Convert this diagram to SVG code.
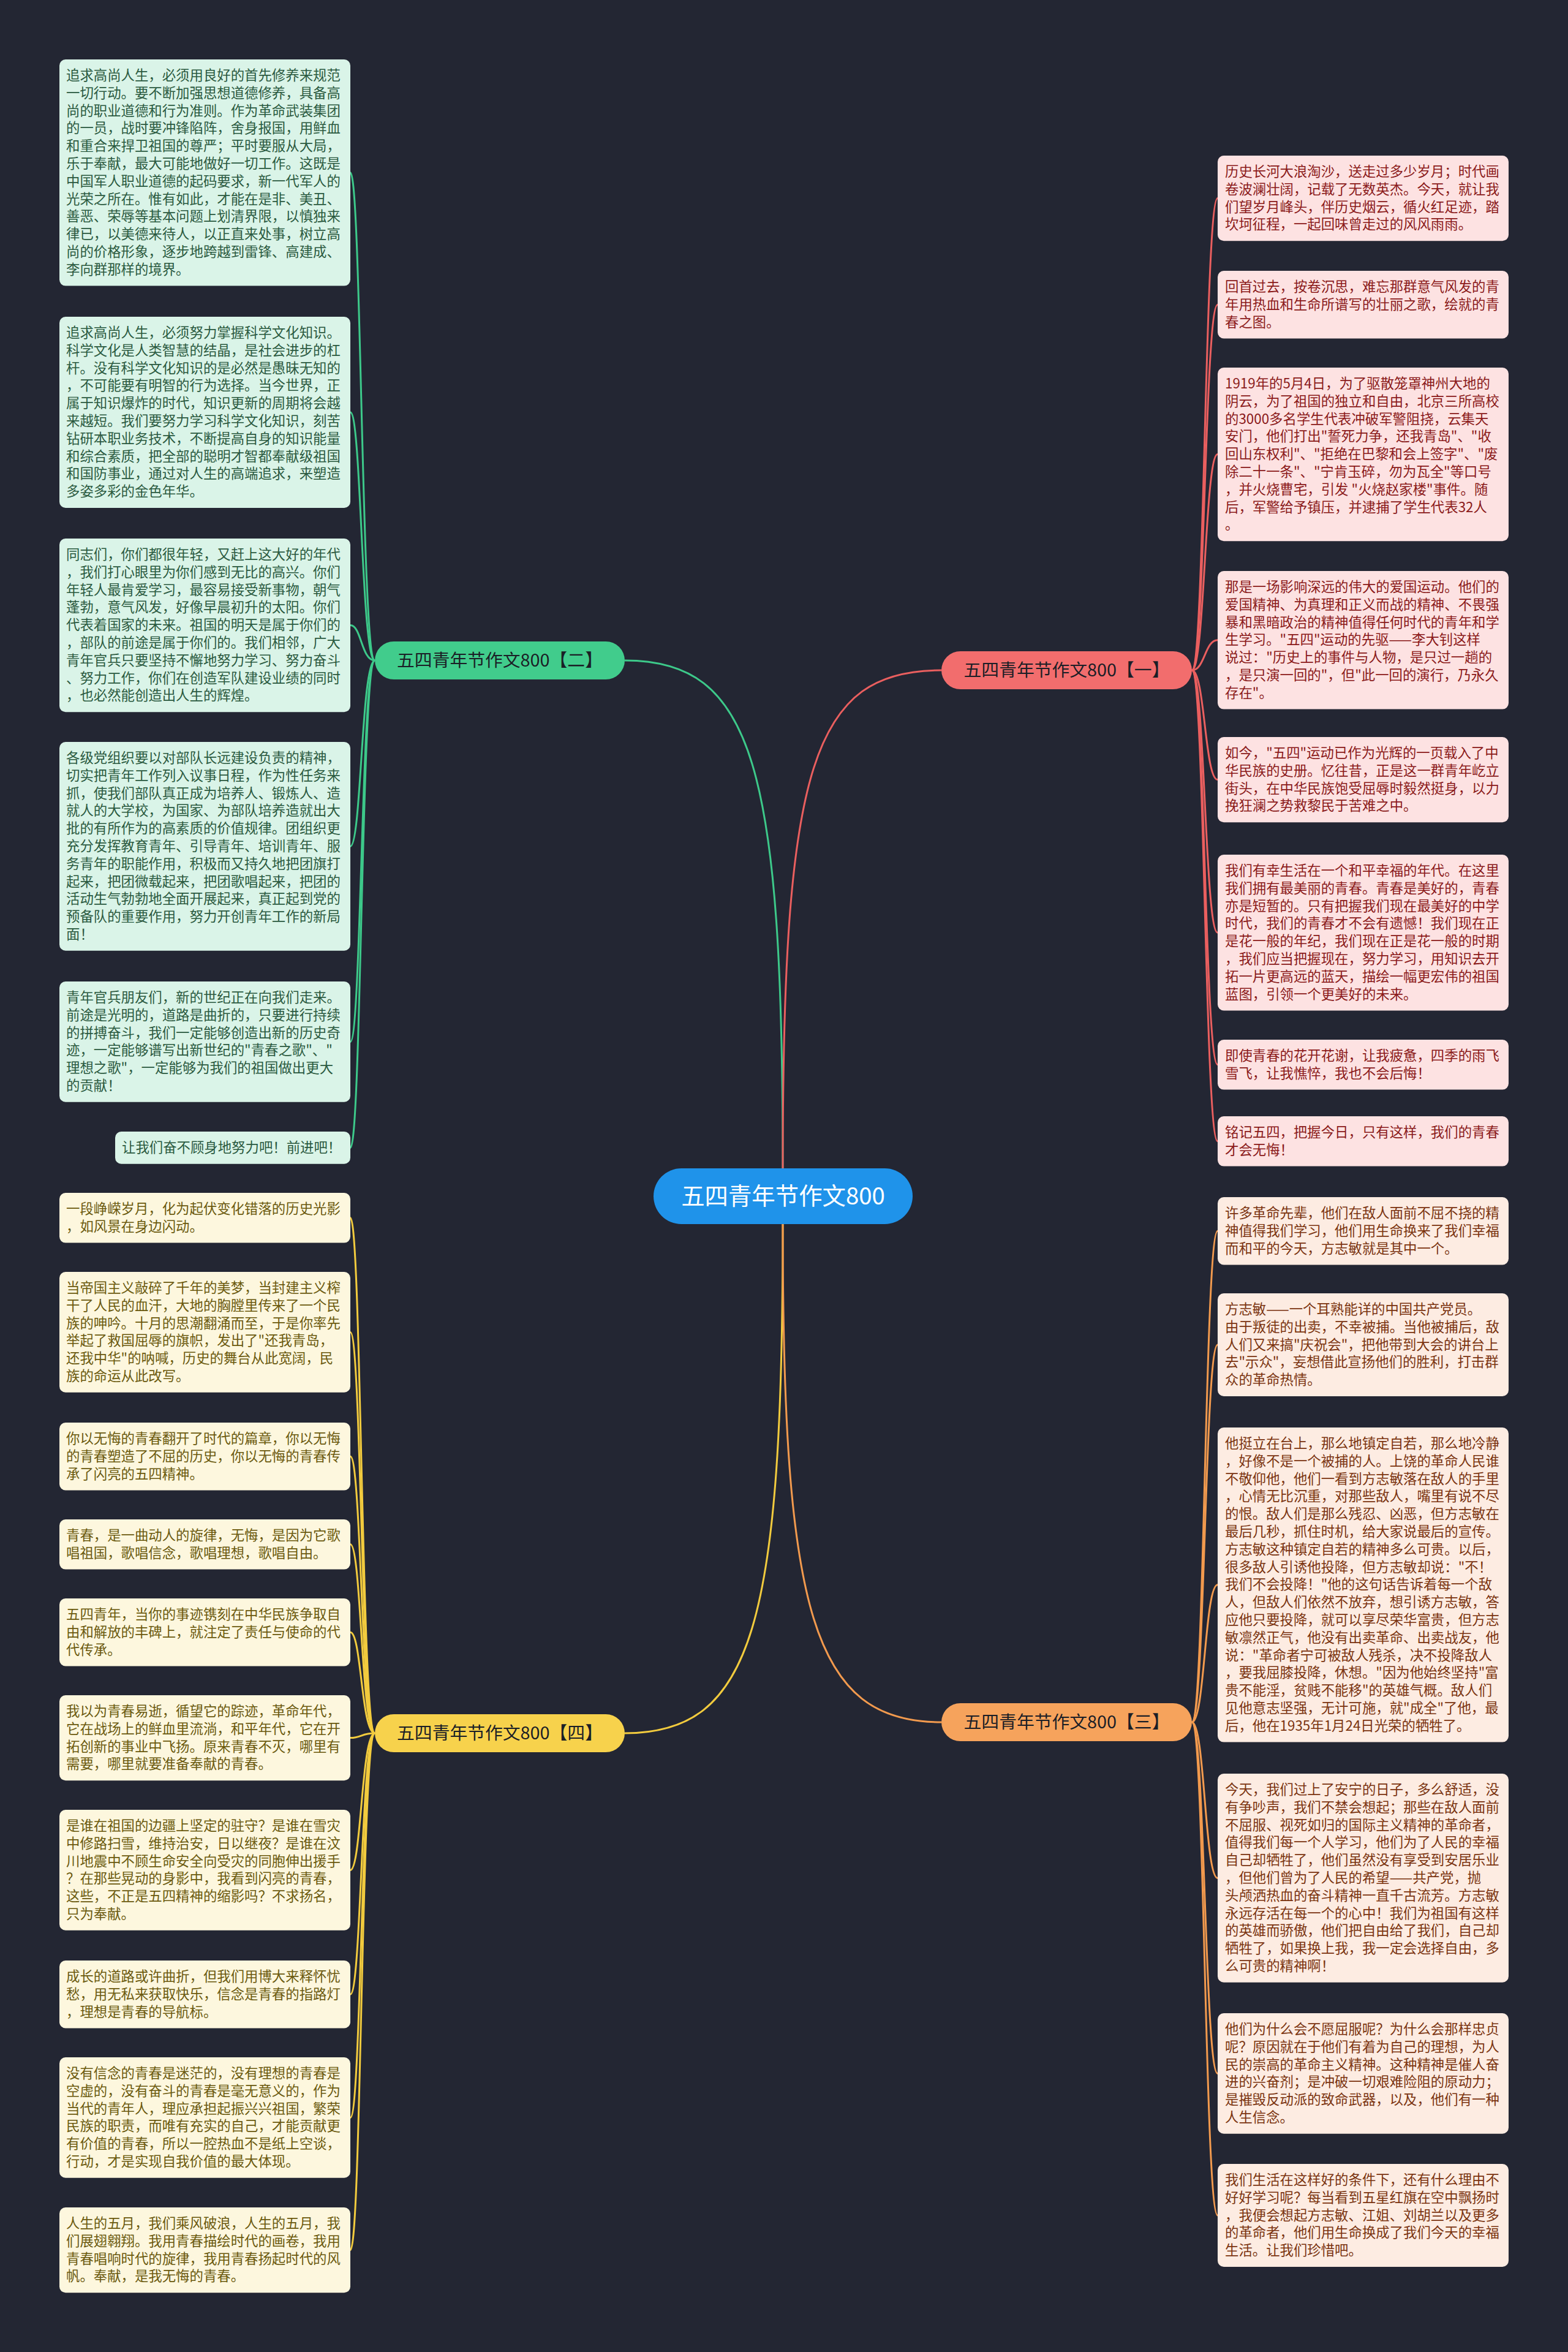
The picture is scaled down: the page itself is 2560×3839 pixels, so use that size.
<svg xmlns="http://www.w3.org/2000/svg" width="2560" height="3839" viewBox="0 0 2560 3839">
<style>
text{font-family:"Noto Sans CJK SC","Noto Sans",sans-serif;}
.t{font-size:22.4px;}
.g rect{fill:#daf4e8;} .g text{fill:#2b5a40;}
.y rect{fill:#fdf7de;} .y text{fill:#6b5a0e;}
.r rect{fill:#fde2e2;} .r text{fill:#8b1a1a;}
.o rect{fill:#fdece2;} .o text{fill:#7b3410;}
.lg{fill:none;stroke:#3dc98a;stroke-width:3;}
.ly{fill:none;stroke:#f2cb3e;stroke-width:3;}
.lr{fill:none;stroke:#ea5f5f;stroke-width:3;}
.lo{fill:none;stroke:#f29a4e;stroke-width:3;}
.bn{font-size:28.8px;fill:#1b1e26;text-anchor:middle;}
</style>
<rect width="2560" height="3839" fill="#232633"/>

<g id="connectors">
<path class="lg" d="M1278,1907 C1278,1250 1230,1078 1020,1078"/>
<path class="lr" d="M1278,1907 C1278,1250 1326,1094 1537,1094"/>
<path class="ly" d="M1278,1998 C1278,2650 1230,2829 1020,2829"/>
<path class="lo" d="M1278,1998 C1278,2630 1326,2811 1537,2811"/>

<path class="lg" d="M612,1078 C590,1078 590,281.8 572,281.8"/>
<path class="lg" d="M612,1078 C590,1078 590,673 572,673"/>
<path class="lg" d="M612,1078 C590,1078 590,1020.6 572,1020.6"/>
<path class="lg" d="M612,1078 C590,1078 590,1381.4 572,1381.4"/>
<path class="lg" d="M612,1078 C590,1078 590,1700.4 572,1700.4"/>
<path class="lg" d="M612,1078 C590,1078 590,1873.4 572,1873.4"/>

<path class="ly" d="M612,2829 C590,2829 590,1987.8 572,1987.8"/>
<path class="ly" d="M612,2829 C590,2829 590,2174.4 572,2174.4"/>
<path class="ly" d="M612,2829 C590,2829 590,2377.2 572,2377.2"/>
<path class="ly" d="M612,2829 C590,2829 590,2520.8 572,2520.8"/>
<path class="ly" d="M612,2829 C590,2829 590,2664.2 572,2664.2"/>
<path class="ly" d="M612,2829 C590,2829 590,2836.6 572,2836.6"/>
<path class="ly" d="M612,2829 C590,2829 590,3052.4 572,3052.4"/>
<path class="ly" d="M612,2829 C590,2829 590,3255.2 572,3255.2"/>
<path class="ly" d="M612,2829 C590,2829 590,3456.4 572,3456.4"/>
<path class="ly" d="M612,2829 C590,2829 590,3672.6 572,3672.6"/>

<path class="lr" d="M1946,1094 C1967,1094 1967,323.6 1988,323.6"/>
<path class="lr" d="M1946,1094 C1967,1094 1967,497.2 1988,497.2"/>
<path class="lr" d="M1946,1094 C1967,1094 1967,741.6 1988,741.6"/>
<path class="lr" d="M1946,1094 C1967,1094 1967,1044.8 1988,1044.8"/>
<path class="lr" d="M1946,1094 C1967,1094 1967,1272.6 1988,1272.6"/>
<path class="lr" d="M1946,1094 C1967,1094 1967,1522.2 1988,1522.2"/>
<path class="lr" d="M1946,1094 C1967,1094 1967,1737.8 1988,1737.8"/>
<path class="lr" d="M1946,1094 C1967,1094 1967,1862.8 1988,1862.8"/>

<path class="lo" d="M1946,2811 C1967,2811 1967,2009.2 1988,2009.2"/>
<path class="lo" d="M1946,2811 C1967,2811 1967,2195 1988,2195"/>
<path class="lo" d="M1946,2811 C1967,2811 1967,2586.8 1988,2586.8"/>
<path class="lo" d="M1946,2811 C1967,2811 1967,3065.4 1988,3065.4"/>
<path class="lo" d="M1946,2811 C1967,2811 1967,3384.4 1988,3384.4"/>
<path class="lo" d="M1946,2811 C1967,2811 1967,3616 1988,3616"/>
</g>

<g id="center">
<rect x="1067" y="1907" width="423" height="91" rx="45.5" fill="#1f93ea"/>
<text x="1278.5" y="1966" font-size="38.4" fill="#ffffff" text-anchor="middle">五四青年节作文800</text>
</g>

<g id="branch-2">
<rect x="612" y="1047" width="408" height="62" rx="31" fill="#41cc8c"/>
<text class="bn" x="816" y="1088">五四青年节作文800【二】</text>
</g>
<g id="branch-1">
<rect x="1537" y="1063" width="409" height="62" rx="31" fill="#f26d6d"/>
<text class="bn" x="1741.5" y="1104">五四青年节作文800【一】</text>
</g>
<g id="branch-4">
<rect x="612" y="2798" width="408" height="62" rx="31" fill="#f7d24c"/>
<text class="bn" x="816" y="2839">五四青年节作文800【四】</text>
</g>
<g id="branch-3">
<rect x="1537" y="2780" width="409" height="62" rx="31" fill="#f6a35c"/>
<text class="bn" x="1741.5" y="2821">五四青年节作文800【三】</text>
</g>

<g id="g1" class="g"><rect x="97" y="97" width="475" height="369.6" rx="10"/>
<text class="t" x="108" y="131"><tspan x="108" dy="0">追求高尚人生，必须用良好的首先修养来规范</tspan><tspan x="108" dy="28.8">一切行动。要不断加强思想道德修养，具备高</tspan><tspan x="108" dy="28.8">尚的职业道德和行为准则。作为革命武装集团</tspan><tspan x="108" dy="28.8">的一员，战时要冲锋陷阵，舍身报国，用鲜血</tspan><tspan x="108" dy="28.8">和重合来捍卫祖国的尊严；平时要服从大局，</tspan><tspan x="108" dy="28.8">乐于奉献，最大可能地做好一切工作。这既是</tspan><tspan x="108" dy="28.8">中国军人职业道德的起码要求，新一代军人的</tspan><tspan x="108" dy="28.8">光荣之所在。惟有如此，才能在是非、美丑、</tspan><tspan x="108" dy="28.8">善恶、荣辱等基本问题上划清界限，以慎独来</tspan><tspan x="108" dy="28.8">律已，以美德来待人，以正直来处事，树立高</tspan><tspan x="108" dy="28.8">尚的价格形象，逐步地跨越到雷锋、高建成、</tspan><tspan x="108" dy="28.8">李向群那样的境界。</tspan></text></g>

<g id="g2" class="g"><rect x="97" y="517" width="475" height="312" rx="10"/>
<text class="t" x="108" y="551"><tspan x="108" dy="0">追求高尚人生，必须努力掌握科学文化知识。</tspan><tspan x="108" dy="28.8">科学文化是人类智慧的结晶，是社会进步的杠</tspan><tspan x="108" dy="28.8">杆。没有科学文化知识的是必然是愚昧无知的</tspan><tspan x="108" dy="28.8">，不可能要有明智的行为选择。当今世界，正</tspan><tspan x="108" dy="28.8">属于知识爆炸的时代，知识更新的周期将会越</tspan><tspan x="108" dy="28.8">来越短。我们要努力学习科学文化知识，刻苦</tspan><tspan x="108" dy="28.8">钻研本职业务技术，不断提高自身的知识能量</tspan><tspan x="108" dy="28.8">和综合素质，把全部的聪明才智都奉献级祖国</tspan><tspan x="108" dy="28.8">和国防事业，通过对人生的高端追求，来塑造</tspan><tspan x="108" dy="28.8">多姿多彩的金色年华。</tspan></text></g>

<g id="g3" class="g"><rect x="97" y="879" width="475" height="283.2" rx="10"/>
<text class="t" x="108" y="913"><tspan x="108" dy="0">同志们，你们都很年轻，又赶上这大好的年代</tspan><tspan x="108" dy="28.8">，我们打心眼里为你们感到无比的高兴。你们</tspan><tspan x="108" dy="28.8">年轻人最肯爱学习，最容易接受新事物，朝气</tspan><tspan x="108" dy="28.8">蓬勃，意气风发，好像早晨初升的太阳。你们</tspan><tspan x="108" dy="28.8">代表着国家的未来。祖国的明天是属于你们的</tspan><tspan x="108" dy="28.8">，部队的前途是属于你们的。我们相邻，广大</tspan><tspan x="108" dy="28.8">青年官兵只要坚持不懈地努力学习、努力奋斗</tspan><tspan x="108" dy="28.8">、努力工作，你们在创造军队建设业绩的同时</tspan><tspan x="108" dy="28.8">，也必然能创造出人生的辉煌。</tspan></text></g>

<g id="g4" class="g"><rect x="97" y="1211" width="475" height="340.8" rx="10"/>
<text class="t" x="108" y="1245"><tspan x="108" dy="0">各级党组织要以对部队长远建设负责的精神，</tspan><tspan x="108" dy="28.8">切实把青年工作列入议事日程，作为性任务来</tspan><tspan x="108" dy="28.8">抓，使我们部队真正成为培养人、锻炼人、造</tspan><tspan x="108" dy="28.8">就人的大学校，为国家、为部队培养造就出大</tspan><tspan x="108" dy="28.8">批的有所作为的高素质的价值规律。团组织更</tspan><tspan x="108" dy="28.8">充分发挥教育青年、引导青年、培训青年、服</tspan><tspan x="108" dy="28.8">务青年的职能作用，积极而又持久地把团旗打</tspan><tspan x="108" dy="28.8">起来，把团微载起来，把团歌唱起来，把团的</tspan><tspan x="108" dy="28.8">活动生气勃勃地全面开展起来，真正起到党的</tspan><tspan x="108" dy="28.8">预备队的重要作用，努力开创青年工作的新局</tspan><tspan x="108" dy="28.8">面！</tspan></text></g>

<g id="g5" class="g"><rect x="97" y="1602" width="475" height="196.8" rx="10"/>
<text class="t" x="108" y="1636"><tspan x="108" dy="0">青年官兵朋友们，新的世纪正在向我们走来。</tspan><tspan x="108" dy="28.8">前途是光明的，道路是曲折的，只要进行持续</tspan><tspan x="108" dy="28.8">的拼搏奋斗，我们一定能够创造出新的历史奇</tspan><tspan x="108" dy="28.8">迹，一定能够谱写出新世纪的"青春之歌"、"</tspan><tspan x="108" dy="28.8">理想之歌"，一定能够为我们的祖国做出更大</tspan><tspan x="108" dy="28.8">的贡献！</tspan></text></g>

<g id="g6" class="g"><rect x="188" y="1847" width="384" height="52.8" rx="10"/>
<text class="t" x="199" y="1881">让我们奋不顾身地努力吧！前进吧！</text></g>

<g id="y1" class="y"><rect x="97" y="1947" width="475" height="81.6" rx="10"/>
<text class="t" x="108" y="1981"><tspan x="108" dy="0">一段峥嵘岁月，化为起伏变化错落的历史光影</tspan><tspan x="108" dy="28.8">，如风景在身边闪动。</tspan></text></g>

<g id="y2" class="y"><rect x="97" y="2076" width="475" height="196.8" rx="10"/>
<text class="t" x="108" y="2110"><tspan x="108" dy="0">当帝国主义敲碎了千年的美梦，当封建主义榨</tspan><tspan x="108" dy="28.8">干了人民的血汗，大地的胸膛里传来了一个民</tspan><tspan x="108" dy="28.8">族的呻吟。十月的思潮翻涌而至，于是你率先</tspan><tspan x="108" dy="28.8">举起了救国屈辱的旗帜，发出了"还我青岛，</tspan><tspan x="108" dy="28.8">还我中华"的呐喊，历史的舞台从此宽阔，民</tspan><tspan x="108" dy="28.8">族的命运从此改写。</tspan></text></g>

<g id="y3" class="y"><rect x="97" y="2322" width="475" height="110.4" rx="10"/>
<text class="t" x="108" y="2356"><tspan x="108" dy="0">你以无悔的青春翻开了时代的篇章，你以无悔</tspan><tspan x="108" dy="28.8">的青春塑造了不屈的历史，你以无悔的青春传</tspan><tspan x="108" dy="28.8">承了闪亮的五四精神。</tspan></text></g>

<g id="y4" class="y"><rect x="97" y="2480" width="475" height="81.6" rx="10"/>
<text class="t" x="108" y="2514"><tspan x="108" dy="0">青春，是一曲动人的旋律，无悔，是因为它歌</tspan><tspan x="108" dy="28.8">唱祖国，歌唱信念，歌唱理想，歌唱自由。</tspan></text></g>

<g id="y5" class="y"><rect x="97" y="2609" width="475" height="110.4" rx="10"/>
<text class="t" x="108" y="2643"><tspan x="108" dy="0">五四青年，当你的事迹镌刻在中华民族争取自</tspan><tspan x="108" dy="28.8">由和解放的丰碑上，就注定了责任与使命的代</tspan><tspan x="108" dy="28.8">代传承。</tspan></text></g>

<g id="y6" class="y"><rect x="97" y="2767" width="475" height="139.2" rx="10"/>
<text class="t" x="108" y="2801"><tspan x="108" dy="0">我以为青春易逝，循望它的踪迹，革命年代，</tspan><tspan x="108" dy="28.8">它在战场上的鲜血里流淌，和平年代，它在开</tspan><tspan x="108" dy="28.8">拓创新的事业中飞扬。原来青春不灭，哪里有</tspan><tspan x="108" dy="28.8">需要，哪里就要准备奉献的青春。</tspan></text></g>

<g id="y7" class="y"><rect x="97" y="2954" width="475" height="196.8" rx="10"/>
<text class="t" x="108" y="2988"><tspan x="108" dy="0">是谁在祖国的边疆上坚定的驻守？是谁在雪灾</tspan><tspan x="108" dy="28.8">中修路扫雪，维持治安，日以继夜？是谁在汶</tspan><tspan x="108" dy="28.8">川地震中不顾生命安全向受灾的同胞伸出援手</tspan><tspan x="108" dy="28.8">？在那些晃动的身影中，我看到闪亮的青春，</tspan><tspan x="108" dy="28.8">这些，不正是五四精神的缩影吗？不求扬名，</tspan><tspan x="108" dy="28.8">只为奉献。</tspan></text></g>

<g id="y8" class="y"><rect x="97" y="3200" width="475" height="110.4" rx="10"/>
<text class="t" x="108" y="3234"><tspan x="108" dy="0">成长的道路或许曲折，但我们用博大来释怀忧</tspan><tspan x="108" dy="28.8">愁，用无私来获取快乐，信念是青春的指路灯</tspan><tspan x="108" dy="28.8">，理想是青春的导航标。</tspan></text></g>

<g id="y9" class="y"><rect x="97" y="3358" width="475" height="196.8" rx="10"/>
<text class="t" x="108" y="3392"><tspan x="108" dy="0">没有信念的青春是迷茫的，没有理想的青春是</tspan><tspan x="108" dy="28.8">空虚的，没有奋斗的青春是毫无意义的，作为</tspan><tspan x="108" dy="28.8">当代的青年人，理应承担起振兴兴祖国，繁荣</tspan><tspan x="108" dy="28.8">民族的职责，而唯有充实的自己，才能贡献更</tspan><tspan x="108" dy="28.8">有价值的青春，所以一腔热血不是纸上空谈，</tspan><tspan x="108" dy="28.8">行动，才是实现自我价值的最大体现。</tspan></text></g>

<g id="y10" class="y"><rect x="97" y="3603" width="475" height="139.2" rx="10"/>
<text class="t" x="108" y="3637"><tspan x="108" dy="0">人生的五月，我们乘风破浪，人生的五月，我</tspan><tspan x="108" dy="28.8">们展翅翱翔。我用青春描绘时代的画卷，我用</tspan><tspan x="108" dy="28.8">青春唱响时代的旋律，我用青春扬起时代的风</tspan><tspan x="108" dy="28.8">帆。奉献，是我无悔的青春。</tspan></text></g>

<g id="r1" class="r"><rect x="1988" y="254" width="475" height="139.2" rx="10"/>
<text class="t" x="2000" y="288"><tspan x="2000" dy="0">历史长河大浪淘沙，送走过多少岁月；时代画</tspan><tspan x="2000" dy="28.8">卷波澜壮阔，记载了无数英杰。今天，就让我</tspan><tspan x="2000" dy="28.8">们望岁月峰头，伴历史烟云，循火红足迹，踏</tspan><tspan x="2000" dy="28.8">坎坷征程，一起回味曾走过的风风雨雨。</tspan></text></g>

<g id="r2" class="r"><rect x="1988" y="442" width="475" height="110.4" rx="10"/>
<text class="t" x="2000" y="476"><tspan x="2000" dy="0">回首过去，按卷沉思，难忘那群意气风发的青</tspan><tspan x="2000" dy="28.8">年用热血和生命所谱写的壮丽之歌，绘就的青</tspan><tspan x="2000" dy="28.8">春之图。</tspan></text></g>

<g id="r3" class="r"><rect x="1988" y="600" width="475" height="283.2" rx="10"/>
<text class="t" x="2000" y="634"><tspan x="2000" dy="0">1919年的5月4日，为了驱散笼罩神州大地的</tspan><tspan x="2000" dy="28.8">阴云，为了祖国的独立和自由，北京三所高校</tspan><tspan x="2000" dy="28.8">的3000多名学生代表冲破军警阻挠，云集天</tspan><tspan x="2000" dy="28.8">安门，他们打出"誓死力争，还我青岛"、"收</tspan><tspan x="2000" dy="28.8">回山东权利"、"拒绝在巴黎和会上签字"、"废</tspan><tspan x="2000" dy="28.8">除二十一条"、"宁肯玉碎，勿为瓦全"等口号</tspan><tspan x="2000" dy="28.8">，并火烧曹宅，引发 "火烧赵家楼"事件。随</tspan><tspan x="2000" dy="28.8">后，军警给予镇压，并逮捕了学生代表32人</tspan><tspan x="2000" dy="28.8">。</tspan></text></g>

<g id="r4" class="r"><rect x="1988" y="932" width="475" height="225.6" rx="10"/>
<text class="t" x="2000" y="966"><tspan x="2000" dy="0">那是一场影响深远的伟大的爱国运动。他们的</tspan><tspan x="2000" dy="28.8">爱国精神、为真理和正义而战的精神、不畏强</tspan><tspan x="2000" dy="28.8">暴和黑暗政治的精神值得任何时代的青年和学</tspan><tspan x="2000" dy="28.8">生学习。"五四"运动的先驱——李大钊这样</tspan><tspan x="2000" dy="28.8">说过："历史上的事件与人物，是只过一趟的</tspan><tspan x="2000" dy="28.8">，是只演一回的"，但"此一回的演行，乃永久</tspan><tspan x="2000" dy="28.8">存在"。</tspan></text></g>

<g id="r5" class="r"><rect x="1988" y="1203" width="475" height="139.2" rx="10"/>
<text class="t" x="2000" y="1237"><tspan x="2000" dy="0">如今，"五四"运动已作为光辉的一页载入了中</tspan><tspan x="2000" dy="28.8">华民族的史册。忆往昔，正是这一群青年屹立</tspan><tspan x="2000" dy="28.8">街头，在中华民族饱受屈辱时毅然挺身，以力</tspan><tspan x="2000" dy="28.8">挽狂澜之势救黎民于苦难之中。</tspan></text></g>

<g id="r6" class="r"><rect x="1988" y="1395" width="475" height="254.4" rx="10"/>
<text class="t" x="2000" y="1429"><tspan x="2000" dy="0">我们有幸生活在一个和平幸福的年代。在这里</tspan><tspan x="2000" dy="28.8">我们拥有最美丽的青春。青春是美好的，青春</tspan><tspan x="2000" dy="28.8">亦是短暂的。只有把握我们现在最美好的中学</tspan><tspan x="2000" dy="28.8">时代，我们的青春才不会有遗憾！我们现在正</tspan><tspan x="2000" dy="28.8">是花一般的年纪，我们现在正是花一般的时期</tspan><tspan x="2000" dy="28.8">，我们应当把握现在，努力学习，用知识去开</tspan><tspan x="2000" dy="28.8">拓一片更高远的蓝天，描绘一幅更宏伟的祖国</tspan><tspan x="2000" dy="28.8">蓝图，引领一个更美好的未来。</tspan></text></g>

<g id="r7" class="r"><rect x="1988" y="1697" width="475" height="81.6" rx="10"/>
<text class="t" x="2000" y="1731"><tspan x="2000" dy="0">即使青春的花开花谢，让我疲惫，四季的雨飞</tspan><tspan x="2000" dy="28.8">雪飞，让我憔悴，我也不会后悔！</tspan></text></g>

<g id="r8" class="r"><rect x="1988" y="1822" width="475" height="81.6" rx="10"/>
<text class="t" x="2000" y="1856"><tspan x="2000" dy="0">铭记五四，把握今日，只有这样，我们的青春</tspan><tspan x="2000" dy="28.8">才会无悔！</tspan></text></g>

<g id="o1" class="o"><rect x="1988" y="1954" width="475" height="110.4" rx="10"/>
<text class="t" x="2000" y="1988"><tspan x="2000" dy="0">许多革命先辈，他们在敌人面前不屈不挠的精</tspan><tspan x="2000" dy="28.8">神值得我们学习，他们用生命换来了我们幸福</tspan><tspan x="2000" dy="28.8">而和平的今天，方志敏就是其中一个。</tspan></text></g>

<g id="o2" class="o"><rect x="1988" y="2111" width="475" height="168" rx="10"/>
<text class="t" x="2000" y="2145"><tspan x="2000" dy="0">方志敏——一个耳熟能详的中国共产党员。</tspan><tspan x="2000" dy="28.8">由于叛徒的出卖，不幸被捕。当他被捕后，敌</tspan><tspan x="2000" dy="28.8">人们又来搞"庆祝会"，把他带到大会的讲台上</tspan><tspan x="2000" dy="28.8">去"示众"，妄想借此宣扬他们的胜利，打击群</tspan><tspan x="2000" dy="28.8">众的革命热情。</tspan></text></g>

<g id="o3" class="o"><rect x="1988" y="2330" width="475" height="513.6" rx="10"/>
<text class="t" x="2000" y="2364"><tspan x="2000" dy="0">他挺立在台上，那么地镇定自若，那么地冷静</tspan><tspan x="2000" dy="28.8">，好像不是一个被捕的人。上饶的革命人民谁</tspan><tspan x="2000" dy="28.8">不敬仰他，他们一看到方志敏落在敌人的手里</tspan><tspan x="2000" dy="28.8">，心情无比沉重，对那些敌人，嘴里有说不尽</tspan><tspan x="2000" dy="28.8">的恨。敌人们是那么残忍、凶恶，但方志敏在</tspan><tspan x="2000" dy="28.8">最后几秒，抓住时机，给大家说最后的宣传。</tspan><tspan x="2000" dy="28.8">方志敏这种镇定自若的精神多么可贵。以后，</tspan><tspan x="2000" dy="28.8">很多敌人引诱他投降，但方志敏却说："不！</tspan><tspan x="2000" dy="28.8">我们不会投降！"他的这句话告诉着每一个敌</tspan><tspan x="2000" dy="28.8">人，但敌人们依然不放弃，想引诱方志敏，答</tspan><tspan x="2000" dy="28.8">应他只要投降，就可以享尽荣华富贵，但方志</tspan><tspan x="2000" dy="28.8">敏凛然正气，他没有出卖革命、出卖战友，他</tspan><tspan x="2000" dy="28.8">说："革命者宁可被敌人残杀，决不投降敌人</tspan><tspan x="2000" dy="28.8">，要我屈膝投降，休想。"因为他始终坚持"富</tspan><tspan x="2000" dy="28.8">贵不能淫，贫贱不能移"的英雄气概。敌人们</tspan><tspan x="2000" dy="28.8">见他意志坚强，无计可施，就"成全"了他，最</tspan><tspan x="2000" dy="28.8">后，他在1935年1月24日光荣的牺牲了。</tspan></text></g>

<g id="o4" class="o"><rect x="1988" y="2895" width="475" height="340.8" rx="10"/>
<text class="t" x="2000" y="2929"><tspan x="2000" dy="0">今天，我们过上了安宁的日子，多么舒适，没</tspan><tspan x="2000" dy="28.8">有争吵声，我们不禁会想起；那些在敌人面前</tspan><tspan x="2000" dy="28.8">不屈服、视死如归的国际主义精神的革命者，</tspan><tspan x="2000" dy="28.8">值得我们每一个人学习，他们为了人民的幸福</tspan><tspan x="2000" dy="28.8">自己却牺牲了，他们虽然没有享受到安居乐业</tspan><tspan x="2000" dy="28.8">，但他们曾为了人民的希望——共产党，抛</tspan><tspan x="2000" dy="28.8">头颅洒热血的奋斗精神一直千古流芳。方志敏</tspan><tspan x="2000" dy="28.8">永远存活在每一个的心中！我们为祖国有这样</tspan><tspan x="2000" dy="28.8">的英雄而骄傲，他们把自由给了我们，自己却</tspan><tspan x="2000" dy="28.8">牺牲了，如果换上我，我一定会选择自由，多</tspan><tspan x="2000" dy="28.8">么可贵的精神啊！</tspan></text></g>

<g id="o5" class="o"><rect x="1988" y="3286" width="475" height="196.8" rx="10"/>
<text class="t" x="2000" y="3320"><tspan x="2000" dy="0">他们为什么会不愿屈服呢？为什么会那样忠贞</tspan><tspan x="2000" dy="28.8">呢？原因就在于他们有着为自己的理想，为人</tspan><tspan x="2000" dy="28.8">民的崇高的革命主义精神。这种精神是催人奋</tspan><tspan x="2000" dy="28.8">进的兴奋剂；是冲破一切艰难险阻的原动力；</tspan><tspan x="2000" dy="28.8">是摧毁反动派的致命武器，以及，他们有一种</tspan><tspan x="2000" dy="28.8">人生信念。</tspan></text></g>

<g id="o6" class="o"><rect x="1988" y="3532" width="475" height="168" rx="10"/>
<text class="t" x="2000" y="3566"><tspan x="2000" dy="0">我们生活在这样好的条件下，还有什么理由不</tspan><tspan x="2000" dy="28.8">好好学习呢？每当看到五星红旗在空中飘扬时</tspan><tspan x="2000" dy="28.8">，我便会想起方志敏、江姐、刘胡兰以及更多</tspan><tspan x="2000" dy="28.8">的革命者，他们用生命换成了我们今天的幸福</tspan><tspan x="2000" dy="28.8">生活。让我们珍惜吧。</tspan></text></g>
</svg>
